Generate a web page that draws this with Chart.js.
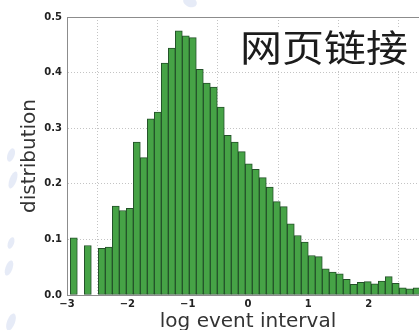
<!DOCTYPE html>
<html>
<head>
<meta charset="utf-8">
<script src="https://cdn.jsdelivr.net/npm/chart.js@4.4.1/dist/chart.umd.min.js"></script>
<style>
  html, body { margin: 0; padding: 0; background: #fff; overflow: hidden; }
  #wrap { width: 419px; height: 330px; position: relative; overflow: hidden; }
  #c { display: block; }
</style>
</head>
<body>
<div id="wrap"><canvas id="c" width="429" height="330"></canvas></div>
<script>
// Histogram bins: centre of each bin on the log-interval axis
const binCenters = [
  -2.887, -2.771, -2.655, -2.539, -2.423, -2.307, -2.191, -2.075, -1.959, -1.843,
  -1.727, -1.611, -1.495, -1.379, -1.263, -1.147, -1.031, -0.915, -0.799, -0.683,
  -0.567, -0.451, -0.335, -0.219, -0.103,  0.013,  0.129,  0.245,  0.361,  0.477,
   0.593,  0.709,  0.825,  0.941,  1.057,  1.173,  1.289,  1.405,  1.521,  1.637,
   1.753,  1.869,  1.985,  2.101,  2.217,  2.333,  2.449,  2.565,  2.681,  2.797
];

// Normalised count per bin (empty bins are null)
const distribution = [
  0.103, null, 0.089, null, 0.084, 0.086, 0.160, 0.152, 0.156, 0.275,
  0.247, 0.317, 0.329, 0.417, 0.444, 0.475, 0.466, 0.463, 0.406, 0.381,
  0.374, 0.338, 0.287, 0.275, 0.258, 0.236, 0.226, 0.211, 0.194, 0.168,
  0.159, 0.128, 0.107, 0.095, 0.071, 0.069, 0.047, 0.041, 0.038, 0.028,
  0.019, 0.023, 0.024, 0.020, 0.025, 0.033, 0.021, 0.013, 0.011, 0.013
];

const xTicks = [-3, -2, -1, 0, 1, 2];
const yTicks = [0, 0.1, 0.2, 0.3, 0.4, 0.5];
const xTitle = 'log event interval';
const yTitle = 'distribution';
const bannerText = '网页链接';

const tickFont = { family: 'DejaVu Sans', size: 10, weight: 'bold' };
const titleFont = { family: 'DejaVu Sans', size: 20, lineHeight: 1 };

// Faint background blobs, solid top spine and the banner text
const decorations = {
  id: 'decorations',
  beforeDraw(chart) {
    const ctx = chart.ctx;
    ctx.save();
    ctx.fillStyle = '#ffffff';
    ctx.fillRect(0, 0, chart.width, chart.height);
    ctx.fillStyle = 'rgba(214,222,242,0.6)';
    const blobs = [[11, 155, 3.5, 7], [13, 180, 3.5, 9], [11, 243, 3, 6], [9, 268, 3.5, 8], [11, 322, 4, 9], [190, 2, 7, 5]];
    blobs.forEach(([x, y, rx, ry]) => {
      ctx.beginPath();
      ctx.ellipse(x, y, rx, ry, 0.35, 0, Math.PI * 2);
      ctx.fill();
    });
    ctx.restore();
  },
  afterDraw(chart) {
    const ctx = chart.ctx;
    const a = chart.chartArea;
    ctx.save();
    ctx.strokeStyle = '#8c8c8c';
    ctx.lineWidth = 1;
    ctx.beginPath();
    ctx.moveTo(a.left, Math.round(a.top) + 0.5);
    ctx.lineTo(chart.width, Math.round(a.top) + 0.5);
    ctx.stroke();
    // banner on a white patch
    ctx.fillStyle = '#ffffff';
    ctx.fillRect(239, 27, 190, 42);
    ctx.fillStyle = '#1c1c1c';
    ctx.font = '42px "Noto Sans CJK SC"';
    ctx.textBaseline = 'middle';
    ctx.textAlign = 'left';
    ctx.translate(240, 48);
    ctx.scale(1, 0.88);
    ctx.fillText(bannerText, 0, 0);
    ctx.restore();
  }
};

new Chart(document.getElementById('c'), {
  type: 'bar',
  data: {
    datasets: [{
      data: binCenters.map((x, i) => ({ x: x, y: distribution[i] })),
      backgroundColor: '#46a346',
      borderColor: '#24522a',
      borderWidth: 1,
      borderSkipped: false,
      barPercentage: 1,
      categoryPercentage: 1
    }]
  },
  options: {
    responsive: false,
    animation: false,
    layout: { padding: { top: 17, right: 0, left: 0, bottom: 0 } },
    plugins: { legend: { display: false }, tooltip: { enabled: false } },
    scales: {
      x: {
        type: 'linear',
        min: -3,
        max: 3,
        offset: false,
        afterBuildTicks: s => { s.ticks = xTicks.map(v => ({ value: v })); },
        afterFit: s => { s.height = 35; },
        ticks: {
          font: tickFont,
          color: '#222',
          padding: 3,
          maxRotation: 0,
          callback: v => (v < 0 ? '\u2212' + Math.abs(v) : String(v))
        },
        grid: { color: '#c4c4c4', lineWidth: 1, drawTicks: false },
        border: { display: true, color: '#8c8c8c', width: 1, dash: [1, 2] },
        title: { display: true, text: xTitle, font: titleFont, color: '#333', padding: { top: 0, bottom: -2 } }
      },
      y: {
        min: 0,
        max: 0.5,
        afterBuildTicks: s => { s.ticks = yTicks.map(v => ({ value: v })); },
        afterFit: s => { s.width = 67; },
        ticks: {
          font: tickFont,
          color: '#222',
          padding: 5,
          callback: v => v.toFixed(1)
        },
        grid: { color: '#c4c4c4', lineWidth: 1, drawTicks: false },
        border: { display: true, color: '#8c8c8c', width: 1, dash: [1, 2] },
        title: { display: true, text: yTitle, font: titleFont, color: '#333', padding: { top: 20, bottom: 0 } }
      }
    }
  },
  plugins: [decorations]
});
</script>
</body>
</html>
